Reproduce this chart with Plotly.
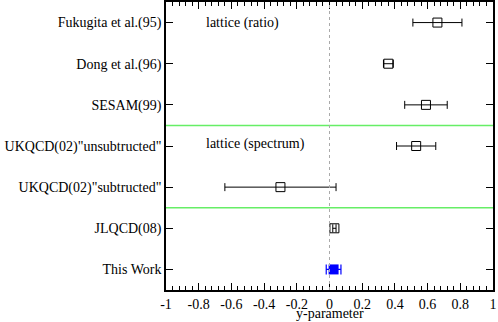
import plotly.graph_objects as go

# rows listed top to bottom
labels = ["Fukugita et al.(95)", "Dong et al.(96)", "SESAM(99)",
          "UKQCD(02)\"unsubtructed\"", "UKQCD(02)\"subtructed\"",
          "JLQCD(08)", "This Work"]
rows = [7, 6, 5, 4, 3, 2, 1]
values = [0.66, 0.36, 0.59, 0.53, -0.30, 0.03, 0.025]
errors = [0.15, 0.03, 0.13, 0.12, 0.34, 0.01, 0.045]

x_ticks = [-1, -0.8, -0.6, -0.4, -0.2, 0, 0.2, 0.4, 0.6, 0.8, 1]
x_ticktext = ["-1", "-0.8", "-0.6", "-0.4", "-0.2", "0", "0.2", "0.4", "0.6", "0.8", "1"]

FONT = "Liberation Serif"

fig = go.Figure()

# literature values: open black squares
fig.add_trace(go.Scatter(
    x=values[:-1], y=rows[:-1],
    mode="markers",
    marker=dict(symbol="square-open", size=9, color="black", line=dict(width=1, color="black")),
    error_x=dict(type="data", array=errors[:-1], color="black", thickness=1, width=4),
    showlegend=False,
))

# this work: filled blue square
fig.add_trace(go.Scatter(
    x=values[-1:], y=rows[-1:],
    mode="markers",
    marker=dict(symbol="square", size=10, color="blue"),
    error_x=dict(type="data", array=errors[-1:], color="blue", thickness=1.2, width=5),
    showlegend=False,
))

# group separators and zero line
for yv in [4.5, 2.5]:
    fig.add_shape(type="line", xref="paper", x0=0, x1=1, y0=yv, y1=yv,
                  line=dict(color="#66ee66", width=1.5))
fig.add_shape(type="line", x0=0, x1=0, yref="paper", y0=0, y1=1,
              line=dict(color="#aaaaaa", width=1, dash="dot"))

fig.add_annotation(x=-0.77, y=7, text="lattice (ratio)", showarrow=False,
                   xanchor="left", font=dict(size=14))
fig.add_annotation(x=-0.77, y=4.05, text="lattice (spectrum)", showarrow=False,
                   xanchor="left", font=dict(size=14))
fig.add_annotation(x=0, xref="x", y=-0.111, yref="paper", yanchor="bottom",
                   text="y-parameter", showarrow=False, font=dict(size=14),
                   borderpad=0)

fig.update_xaxes(
    range=[-1, 1], tickvals=x_ticks, ticktext=x_ticktext,
    ticks="inside", ticklen=7, tickwidth=1, tickcolor="black",
    minor=dict(dtick=0.04, ticks="inside", ticklen=4, tickcolor="black", tickwidth=1),
    showline=True, linecolor="black", linewidth=1.5, mirror="ticks",
    showgrid=False, zeroline=False, automargin=False,
    tickfont=dict(size=14, color="black"),
)
fig.update_yaxes(
    range=[0.5, 7.5], tickvals=rows, ticktext=labels,
    ticks="inside", ticklen=7, tickwidth=1, tickcolor="black",
    showline=True, linecolor="black", linewidth=1.5, mirror="ticks",
    showgrid=False, zeroline=False, automargin=False,
    tickfont=dict(size=14, color="black"),
)

fig.update_layout(
    width=498, height=322,
    margin=dict(l=166, r=5, t=2, b=32),
    font=dict(family=FONT, size=14, color="black"),
    plot_bgcolor="white", paper_bgcolor="white",
)

fig.write_html("out.html", config={"displayModeBar": False},
               post_script="document.body.style.margin='0';")
